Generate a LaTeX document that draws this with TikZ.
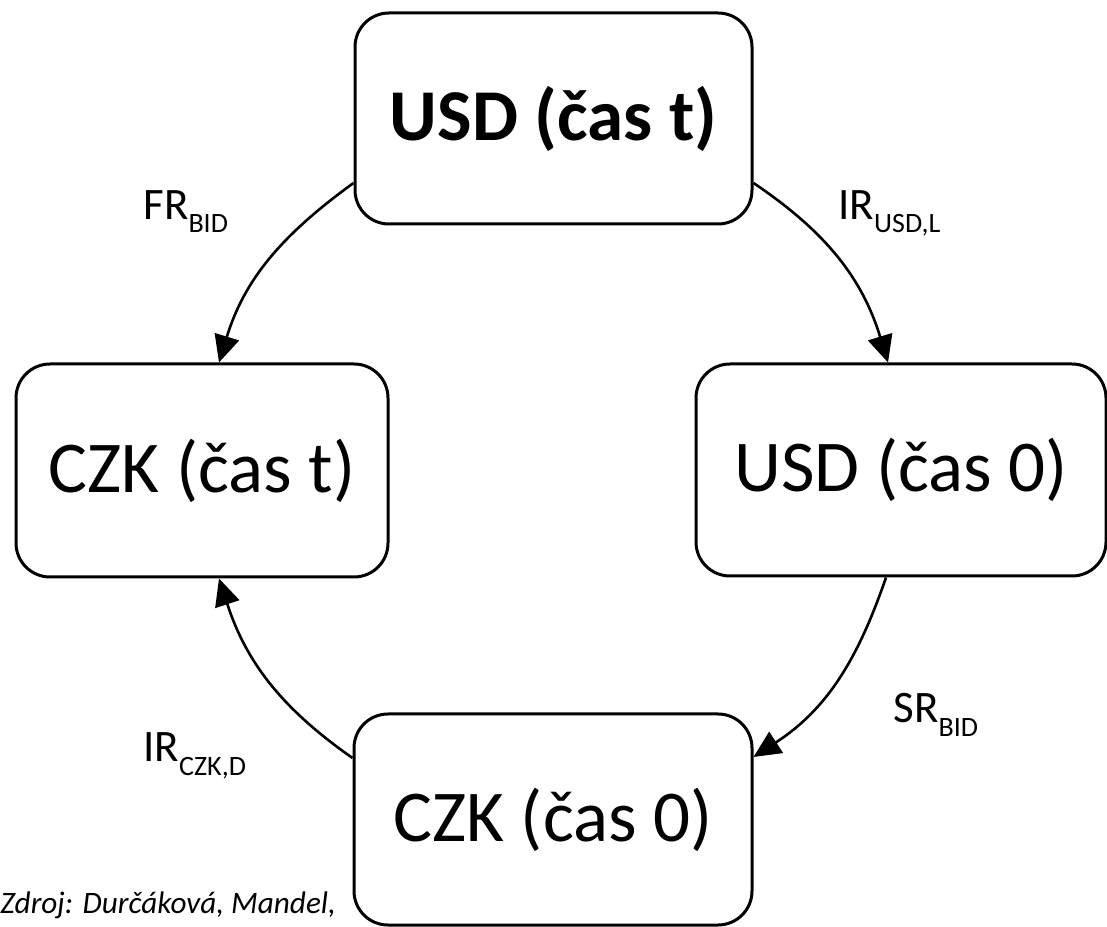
\documentclass[tikz,border=0pt]{standalone}
\usepackage{fontspec}
\setmainfont{Carlito}
\usetikzlibrary{arrows.meta,calc}
\tikzset{
  box/.style={draw, line width=1.5pt, rounded corners=17pt, inner sep=0pt, align=center,
    font=\fontsize{36.5pt}{42pt}\selectfont},
  flow/.style={line width=1.3pt, -{Triangle[length=13.5pt,width=12.5pt]}},
  lbl/.style={anchor=base west, inner sep=0pt, font=\fontsize{22.5pt}{25pt}\selectfont},
}
\newcommand{\sbs}[1]{\raisebox{-6.5pt}{\fontsize{14pt}{16pt}\selectfont #1}}
\begin{document}
\begin{tikzpicture}[x=0.5pt,y=0.5pt]
\useasboundingbox (0,0) rectangle (1107,926);
\fill[white] (0,0) rectangle (1107,926);
\node[box, minimum width=198.5pt, minimum height=105.5pt] (top) at (553.5,807.5) {\bfseries USD (čas t)};
\node[box, minimum width=186pt, minimum height=106.5pt] (left) at (202,455.5) {CZK (čas t)};
\node[box, minimum width=205pt, minimum height=106pt] (right) at (901,456) {USD (čas 0)};
\node[box, minimum width=199pt, minimum height=105.5pt] (bottom) at (553,106.5) {CZK (čas 0)};
\draw[flow] ($(top.west)+(0,-64.5)$) to[out=216,in=73] ($(left.north)+(17,0)$);
\draw[flow] ($(top.east)+(0,-64.5)$) to[out=326,in=107] ($(right.north)+(-13,0)$);
\draw[flow] ($(right.south)+(-15,0)$) to[out=251,in=33] ($(bottom.east)+(0,62.5)$);
\draw[flow] ($(bottom.west)+(0,61.5)$) to[out=145,in=288] ($(left.south)+(17,0)$);
\node[lbl] (lfr) at (143,706) {FR\sbs{BID}};
\node[lbl] (lirusd) at (838,706) {IR\sbs{USD,L}};
\node[lbl] (lsr) at (893,203) {SR\sbs{BID}};
\node[lbl] (lirczk) at (143,164) {IR\sbs{CZK,D}};
\node[anchor=base west, inner sep=0pt, font=\fontsize{15.6pt}{18pt}\selectfont\itshape] (src) at (0,13) {Zdroj: Durčáková, Mandel,};
\end{tikzpicture}
\end{document}
